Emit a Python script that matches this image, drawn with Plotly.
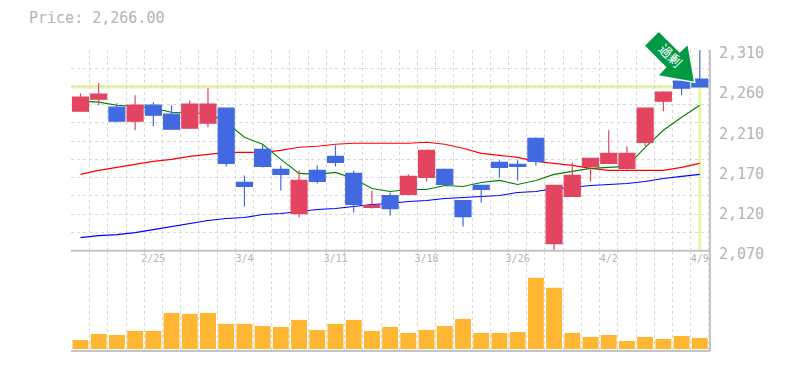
import plotly.graph_objects as go

x_idx = list(range(35))
tick_idx = [4, 9, 14, 19, 24, 29, 34]
tick_labels = ["2/25", "3/4", "3/11", "3/18", "3/26", "4/2", "4/9"]
price_ticks = [2310, 2262, 2214, 2166, 2118, 2070]
price_labels = ["2,310", "2,260", "2,210", "2,170", "2,120", "2,070"]
last_price = 2266

open_ = [2236.8, 2251.2, 2241.6, 2224.8, 2244, 2233.2, 2216.4, 2222.4, 2240.4, 2151.6, 2191.2, 2167.2,
         2114.4, 2166, 2182.8, 2162.4, 2121.6, 2136, 2137.2, 2157.6, 2167.2, 2130, 2148, 2175.6, 2173.2,
         2204.4, 2078.4, 2134.8, 2170.8, 2174.4, 2168.4, 2199.6, 2248.8, 2272.8, 2275.2]
close = [2253.6, 2257.2, 2224.8, 2244, 2232, 2215.2, 2245.2, 2245.2, 2174.4, 2146.8, 2170.8, 2161.2,
         2154, 2152.8, 2175.6, 2125.2, 2124, 2120.4, 2158.8, 2190, 2149.2, 2110.8, 2143.2, 2169.6, 2170.8,
         2176.8, 2148, 2160, 2180.4, 2186.4, 2186.4, 2240.4, 2259.6, 2264.4, 2266]
high = [2258.4, 2270.4, 2246.4, 2256, 2247.6, 2244, 2250, 2264.4, 2240.4, 2160, 2196, 2172,
        2166, 2172, 2196, 2166, 2142, 2139.6, 2161.2, 2190, 2168.4, 2130, 2148, 2178, 2178,
        2205.6, 2148, 2175.6, 2180.4, 2214, 2194.8, 2240.4, 2260.8, 2272.8, 2310]
low = [2236.8, 2244, 2223.6, 2214, 2218.8, 2215.2, 2216.4, 2217.6, 2170.8, 2122.8, 2169.6, 2142,
       2109.6, 2150.4, 2170.8, 2115.6, 2120.4, 2112, 2137.2, 2152.8, 2149.2, 2098.8, 2127.6, 2157.6, 2154,
       2172, 2069, 2134.8, 2152.8, 2174.4, 2167.2, 2194.8, 2236.8, 2256, 2266]
ma_short = [2248.8, 2247.6, 2244, 2242.8, 2240.4, 2235.6, 2234.4, 2234.4, 2223.6, 2205.6, 2197.2, 2179.2,
            2162.4, 2161.2, 2163.6, 2156.4, 2144.4, 2140.8, 2143.2, 2143.2, 2148, 2146.8, 2151.6, 2154, 2149.2,
            2154, 2161.2, 2164.8, 2168.4, 2169.6, 2170.8, 2193.6, 2214, 2229.6, 2244]
ma_mid = [2161.2, 2166, 2169.6, 2173.2, 2176.8, 2179.2, 2182.8, 2185.2, 2187.6, 2187.6, 2187.6, 2190,
          2193.6, 2194.8, 2197.2, 2198.4, 2198.4, 2198.4, 2198.4, 2199.6, 2197.2, 2192.4, 2186.4, 2184, 2181.6,
          2176.8, 2174.4, 2172, 2168.4, 2166, 2166, 2166, 2166, 2169.6, 2174.4]
ma_long = [2085.6, 2088, 2089.2, 2091.6, 2095.2, 2098.8, 2102.4, 2106, 2108.4, 2109.6, 2113.2, 2114.4,
           2116.8, 2119.2, 2120.4, 2122.8, 2125.2, 2126.4, 2128.8, 2130, 2132.4, 2133.6, 2134.8, 2136, 2139.6,
           2140.8, 2144.4, 2145.6, 2148, 2149.2, 2150.4, 2152.8, 2156.4, 2158.8, 2161.2]
volume = [9, 15, 14, 18, 18, 36, 35, 36, 25, 25, 23, 22, 29, 19, 25, 29, 18, 22,
          16, 19, 23, 30, 16, 16, 17, 71, 61, 16, 12, 14, 8, 12, 10, 13, 11]

FONT = "DejaVu Sans Mono"
GREY = "#b4b4b4"
GRID = "#d8d8d8"
AXIS = "#c4c4c4"
HILITE = "#e6f5aa"
OFF = 8  # the page's own body margin
L, R, T, B = 70.5, 710.3, 50, 350

fig = go.Figure()
for vals, col in ((ma_long, "#0000ff"), (ma_mid, "#ff0000"), (ma_short, "#008000")):
    fig.add_trace(go.Scatter(x=x_idx, y=vals, mode="lines", line=dict(color=col, width=1.1),
                             xaxis="x", yaxis="y", zorder=1))
fig.add_trace(go.Candlestick(x=x_idx, open=open_, high=high, low=low, close=close,
                             increasing=dict(line=dict(color="#e34460", width=1.2), fillcolor="#e34460"),
                             decreasing=dict(line=dict(color="#4169e1", width=1.2), fillcolor="#4169e1"),
                             whiskerwidth=0, xaxis="x", yaxis="y", zorder=2))
fig.add_trace(go.Bar(x=x_idx, y=volume, marker=dict(color="#ffb733", line=dict(width=0)), width=0.875,
                     xaxis="x2", yaxis="y2"))

band_edges = [i - 0.5 for i in range(36)]
h_grid = [2070 + 240 * i / 11 for i in range(12)]
xgrid = dict(minor=dict(tickvals=band_edges, showgrid=True, gridcolor=GRID, griddash="3px,3px",
                        gridwidth=1, ticks=""))
common_x = dict(range=[-0.52, 34.56], showgrid=False, zeroline=False, showline=False, automargin=False,
                rangeslider=dict(visible=False), **xgrid)

# arrow badge outline, expressed in paper fractions
arrow_pts = [(659, 31), (680, 51.7), (688.3, 44), (695, 82.3), (657.7, 75.7), (665.7, 67.3), (644.3, 45.7)]
def to_paper(px, py):
    return (px - L) / (R - L), (B - py) / (B - T)
path = "M " + " L ".join("%.4f %.4f" % to_paper(*p) for p in arrow_pts) + " Z"

frame = [dict(type="line", xref="paper", yref="paper", x0=1, x1=1, y0=0, y1=1, line=dict(color=AXIS, width=2), layer="above"),
         dict(type="line", xref="paper", yref="paper", x0=0, x1=1, y0=0, y1=0, line=dict(color=AXIS, width=2), layer="above"),
         dict(type="line", xref="paper", yref="paper", x0=0, x1=1, y0=1 / 3, y1=1 / 3, line=dict(color=AXIS, width=2), layer="above")]

fig.update_layout(
    width=785 - OFF, height=370 - OFF, autosize=False, showlegend=False, plot_bgcolor="white", paper_bgcolor="white",
    margin=dict(l=L - OFF, r=785 - R, t=T - OFF, b=370 - B - 1, pad=0),
    font=dict(family=FONT, color=GREY),
    boxgap=0.125, boxgroupgap=0,
    title=dict(text="Price: 2,266.00", x=(29 - OFF) / (785 - OFF), y=1 - (18 - OFF) / (370 - OFF),
               xanchor="left", yanchor="middle",
               xref="container", yref="container", font=dict(family=FONT, size=15, color=GREY)),
    xaxis=dict(anchor="y", domain=[0, 1], tickmode="array", tickvals=tick_idx, ticktext=tick_labels,
               tickfont=dict(family=FONT, size=10, color=GREY), ticks="", ticklen=0, **common_x),
    xaxis2=dict(anchor="y2", domain=[0, 1], showticklabels=False, ticks="", **common_x),
    yaxis=dict(domain=[1 / 3, 1], range=[2070, 2310], side="right", anchor="x", tickmode="array",
               tickvals=price_ticks, ticktext=price_labels, ticks="", showgrid=False, zeroline=False,
               tickfont=dict(family=FONT, size=15, color=GREY), ticklabelshift=3, ticklabelstandoff=8,
               showline=False, automargin=False,
               minor=dict(tickvals=h_grid, showgrid=True, gridcolor=GRID, griddash="3px,3px", gridwidth=1, ticks="")),
    yaxis2=dict(domain=[0, 1 / 3], range=[-2, 98], side="right", anchor="x2", showticklabels=False, ticks="",
                showgrid=False, zeroline=False, showline=False, automargin=False),
    shapes=[
        dict(type="line", xref="paper", yref="y", x0=0, x1=1, y0=last_price, y1=last_price,
             line=dict(color=HILITE, width=3.5), layer="between"),
        dict(type="line", xref="x", yref="y", x0=34, x1=34, y0=last_price, y1=2071,
             line=dict(color=HILITE, width=3), layer="between"),
        *frame,
        dict(type="path", xref="paper", yref="paper", path=path, fillcolor="#009944",
             line=dict(color="white", width=1.5), layer="above",
             label=dict(text="過剰", textangle=45, textposition="middle center",
                        font=dict(family="Noto Sans CJK JP", size=13, color="white"))),
    ],
)
fig.write_html("out.html")
